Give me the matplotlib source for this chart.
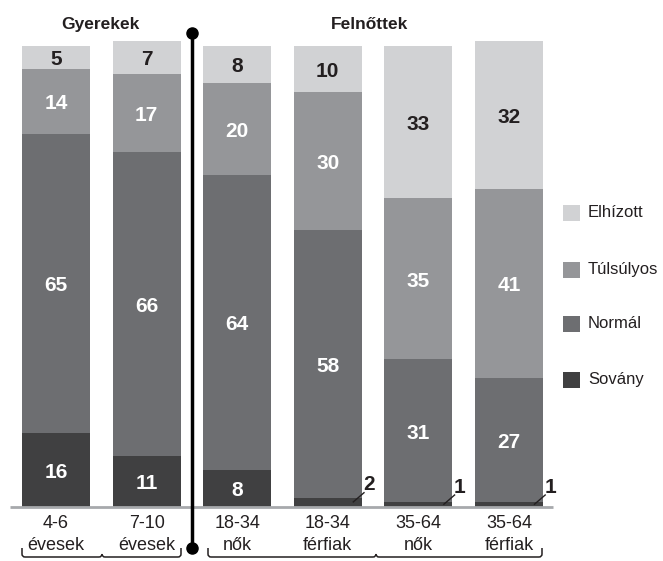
import matplotlib
matplotlib.use("Agg")
import matplotlib.pyplot as plt
from matplotlib.path import Path
from matplotlib.patches import PathPatch, Rectangle
import numpy as np

plt.rcParams['font.family'] = ['Liberation Sans', 'DejaVu Sans']

# ---- data ----
categories = ["4-6\névesek", "7-10\névesek", "18-34\nnők", "18-34\nférfiak", "35-64\nnők", "35-64\nférfiak"]
series_names = ["Sovány", "Normál", "Túlsúlyos", "Elhízott"]
sovany = [16, 11, 8, 2, 1, 1]
normal = [65, 66, 64, 58, 31, 27]
tulsulyos = [14, 17, 20, 30, 35, 41]
elhizott = [5, 7, 8, 10, 33, 32]
group_titles = ["Gyerekek", "Felnőttek"]

colors = ["#404041", "#6d6e71", "#959699", "#d1d2d4"]
text_colors = ["white", "white", "white", "#231f20"]
dark = "#231f20"

W, H = 663, 561
fig = plt.figure(figsize=(W / 100, H / 100), dpi=100)

# main axes: x: 90.6 px per bar, first bar centre at px 56; y: baseline at px 507, 4.61 px per unit
XS, X0 = 90.6, 56
YS, Y0 = 4.61, 507
ax = fig.add_axes([0, 0, 1, 1])
ax.set_xlim(-X0 / XS, (W - X0) / XS)
ax.set_ylim(-(H - Y0) / YS, Y0 / YS)
ax.axis("off")

data = [sovany, normal, tulsulyos, elhizott]
x = np.arange(len(categories))
bottom = np.zeros(len(categories))
bw = 68 / XS
for k, vals in enumerate(data):
    vals = np.array(vals, dtype=float)
    ax.bar(x, vals, bw, bottom=bottom, color=colors[k], linewidth=0, zorder=2)
    for i, v in enumerate(vals):
        if v >= 5:
            ax.text(x[i], bottom[i] + v / 2 - 0.5, f"{int(v)}", ha="center", va="center",
                    color=text_colors[k], fontsize=15, fontweight="bold", zorder=3)
        else:
            xr = x[i] + bw / 2
            y_mid = bottom[i] + v / 2
            ax.plot([xr - 0.10, xr + 0.03], [y_mid, y_mid + 2.2], color=dark, lw=1.0, zorder=4,
                    solid_capstyle="butt")
            ax.text(xr + 0.08, y_mid + 3.8, f"{int(v)}", ha="center", va="center",
                    color=dark, fontsize=15, fontweight="bold", zorder=4)
    bottom += vals

# baseline
ax.plot([(10 - X0) / XS, (553 - X0) / XS], [0, 0], color="#a7a9ac", lw=2, zorder=3,
        solid_capstyle="butt")

# category labels
for i, lab in enumerate(categories):
    l1, l2 = lab.split("\n")
    ax.text(x[i], (Y0 - 523) / YS, l1, ha="center", va="center", fontsize=13, color=dark)
    ax.text(x[i], (Y0 - 546) / YS, l2, ha="center", va="center", fontsize=13, color=dark)

# overlay for decorations in pixel coords
ov = fig.add_axes([0, 0, 1, 1], facecolor="none")
ov.set_xlim(0, W)
ov.set_ylim(H, 0)
ov.axis("off")

# divider
ov.plot([192, 192], [33, 548], color="black", lw=2.5, zorder=5)
ov.plot([192, 192], [33, 548], "o", color="black", ms=8, zorder=5)

# group titles
ov.text(100, 24, group_titles[0], ha="center", va="center", fontsize=12.5, fontweight="bold", color=dark)
ov.text(370, 24, group_titles[1], ha="center", va="center", fontsize=12.5, fontweight="bold", color=dark)

# braces
def brace(x0, x1, xc, ytop=548, ybot=557, r=3):
    verts = [(x0, ytop), (x0, ybot - r), (x0, ybot), (x0 + r, ybot),
             (xc - r, ybot), (xc, ybot), (xc, ybot - r)]
    codes = [Path.MOVETO, Path.LINETO, Path.CURVE3, Path.CURVE3,
             Path.LINETO, Path.CURVE3, Path.CURVE3]
    verts2 = [(xc, ybot - r), (xc, ybot), (xc + r, ybot),
              (x1 - r, ybot), (x1, ybot), (x1, ybot - r), (x1, ytop)]
    codes2 = [Path.MOVETO, Path.CURVE3, Path.CURVE3,
              Path.LINETO, Path.CURVE3, Path.CURVE3, Path.LINETO]
    for v, c in ((verts, codes), (verts2, codes2)):
        ov.add_patch(PathPatch(Path(v, c), facecolor="none", edgecolor=dark, lw=1.1))

brace(22, 181, 102)
brace(208, 542, 376)

# legend
leg_y = [213, 270, 324, 380]
leg_order = [3, 2, 1, 0]
for yy, k in zip(leg_y, leg_order):
    ov.add_patch(Rectangle((563, yy - 8), 17, 16, facecolor=colors[k], edgecolor="none"))
    ov.text(588, yy - 1, series_names[k], ha="left", va="center", fontsize=12, color=dark)

fig.savefig("out.png", dpi=100)
